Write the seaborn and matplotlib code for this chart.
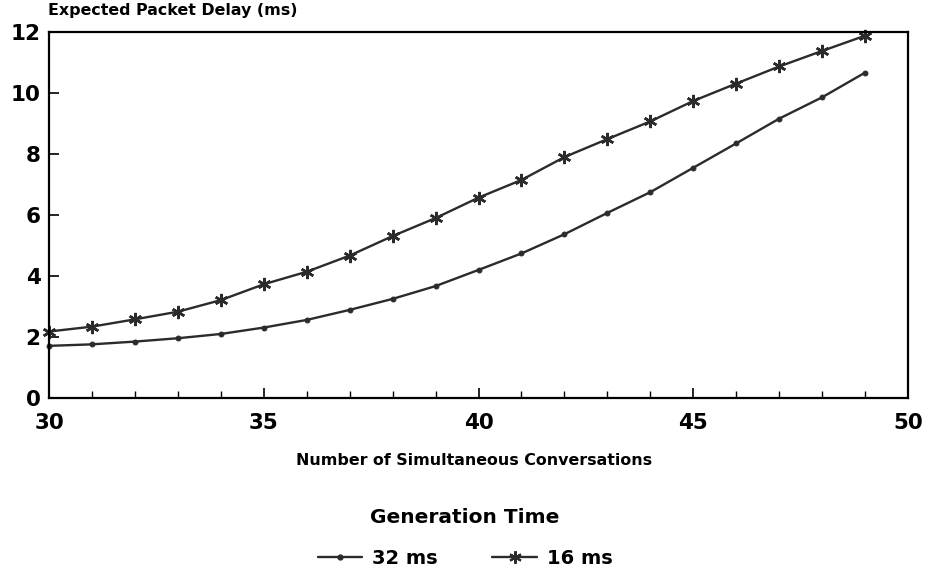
import matplotlib
matplotlib.use("Agg")
import matplotlib.pyplot as plt
import seaborn as sns
import pandas as pd
from matplotlib.lines import Line2D

conversations = list(range(30, 50))
delay_32ms = [1.71, 1.76, 1.85, 1.96, 2.10, 2.31, 2.56, 2.89, 3.25, 3.67,
              4.20, 4.74, 5.37, 6.07, 6.75, 7.55, 8.35, 9.16, 9.86, 10.67]
delay_16ms = [2.18, 2.34, 2.58, 2.83, 3.21, 3.73, 4.14, 4.67, 5.31, 5.90,
              6.57, 7.15, 7.90, 8.49, 9.07, 9.74, 10.31, 10.87, 11.38, 11.88]
series_labels = ["32 ms", "16 ms"]
x_ticks = [30, 35, 40, 45, 50]
y_ticks = [0, 2, 4, 6, 8, 10, 12]

df32 = pd.DataFrame({"x": conversations, "y": delay_32ms})
df16 = pd.DataFrame({"x": conversations, "y": delay_16ms})

sns.set_theme(style="white")
plt.rcParams["font.family"] = ["DejaVu Sans"]
plt.rcParams["text.color"] = "black"
plt.rcParams["legend.labelcolor"] = "black"

fig = plt.figure(figsize=(9.3, 5.77), dpi=100)
ax = fig.add_axes([0.0527, 0.3102, 0.9237, 0.6343])

ink = "#2b2b2b"
sns.lineplot(data=df32, x="x", y="y", color=ink, marker="o", markersize=3.5,
             markeredgecolor=ink, linewidth=1.7, ax=ax, clip_on=False)
sns.lineplot(data=df16, x="x", y="y", color=ink, marker=(6, 2, 0), markersize=9.5,
             markeredgecolor=ink, markeredgewidth=1.8, linewidth=1.7, ax=ax,
             clip_on=False)

ax.set_xlim(30, 50)
ax.set_ylim(0, 12)
ax.set_xticks(x_ticks)
ax.set_xticks(range(30, 51), minor=True)
ax.set_yticks(y_ticks)
ax.tick_params(axis="both", which="major", direction="in", length=7, width=1.2,
               color="black", labelsize=15.5, labelcolor="black")
ax.tick_params(axis="x", which="major", pad=11, bottom=True)
ax.tick_params(axis="x", which="minor", direction="in", length=5, width=1.0,
               color="black", bottom=True)
ax.tick_params(axis="y", which="major", direction="in", left=True, pad=6)
for lab in ax.get_xticklabels() + ax.get_yticklabels():
    lab.set_fontweight("bold")
for s in ax.spines.values():
    s.set_visible(True)
    s.set_color("black")
    s.set_linewidth(1.6)

ax.set_xlabel("")
ax.set_ylabel("")
fig.text(0.052, 0.968, "Expected Packet Delay (ms)", fontsize=11.4,
         fontweight="bold", ha="left", va="bottom", color="black")
fig.text(0.51, 0.202, "Number of Simultaneous Conversations", fontsize=11.4,
         fontweight="bold", ha="center", va="center", color="black")

handles = [
    Line2D([], [], color=ink, marker="o", markersize=3.5, linewidth=1.7),
    Line2D([], [], color=ink, marker=(6, 2, 0), markersize=9, markeredgewidth=1.5, linewidth=1.7),
]
leg = fig.legend(handles, series_labels, title="Generation Time", ncol=2,
                 loc="center", bbox_to_anchor=(0.5, 0.068), frameon=False,
                 prop={"size": 14, "weight": "bold"}, handlelength=2.3,
                 columnspacing=2.8, handletextpad=0.5)
leg.get_title().set_fontsize(14.5)
leg.get_title().set_fontweight("bold")
leg.get_title().set_color("black")
leg._legend_box.sep = 16

fig.savefig("out.png", dpi=100, facecolor="white")
